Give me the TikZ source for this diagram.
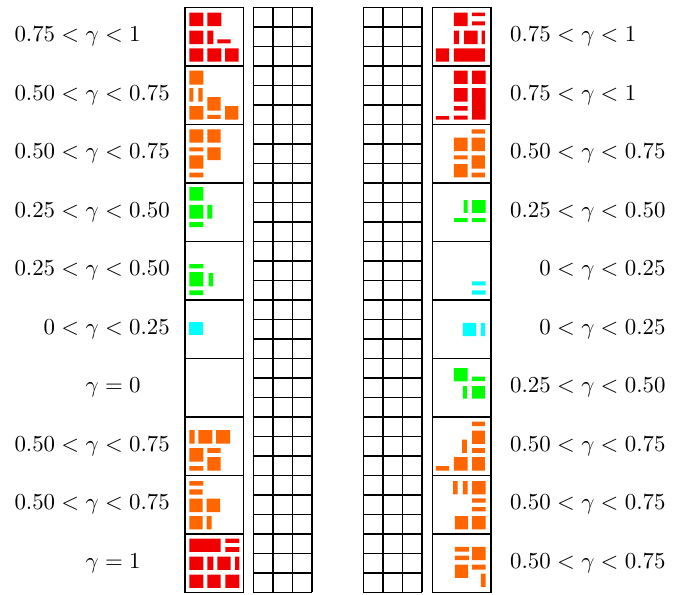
\documentclass[tikz,border=0pt]{standalone}
\definecolor{gred}{RGB}{240,0,0}
\definecolor{gorange}{RGB}{255,102,0}
\definecolor{ggreen}{RGB}{0,255,0}
\definecolor{gcyan}{RGB}{0,255,255}
\newcommand{\gamlab}[2]{\llap{$#1{}$}$\gamma#2$}
\begin{document}
\begin{tikzpicture}[x=0.015385cm,y=-0.015385cm,line width=0.7pt]
  \useasboundingbox (0,0) rectangle (682,594);
  \foreach \i in {0,...,9} {
    \draw (185,7.3+58.5*\i) rectangle ++(58.5,58.5);
    \draw (432.3,7.3+58.5*\i) rectangle ++(58.5,58.5);
  }
  \foreach \gx in {253.3,363.3} {
    \foreach \j in {0,...,30}
      \draw (\gx,7.3+19.5*\j) -- ++(58.5,0);
    \foreach \j in {0,...,3}
      \draw (\gx+19.5*\j,7.3) -- ++(0,585);
  }

  \foreach \i/\a/\b in {0/0.75</<1,1/0.50</<0.75,2/0.50</<0.75,3/0.25</<0.50,
      4/0.25</<0.50,5/0</<0.25,6/{}/{=0},7/0.50</<0.75,8/0.50</<0.75,9/{}/{=1}}
    \node[anchor=west,inner sep=0] (ll\i) at (84.8,36.55+58.5*\i) {\gamlab{\a}{\b}};
  \foreach \i/\a/\b in {0/0.75</<1,1/0.75</<1,2/0.50</<0.75,3/0.25</<0.50,
      4/0</<0.25,5/0</<0.25,6/0.25</<0.50,7/0.50</<0.75,8/0.50</<0.75,9/0.50</<0.75}
    \node[anchor=west,inner sep=0] (rl\i) at (580.5,36.55+58.5*\i) {\gamlab{\a}{\b}};

  % left column
  \begin{scope}[shift={(185,7.3)}]
    \fill[gred] (4.3,5.3) rectangle (18.3,18.7) (22.3,5.3) rectangle (36.3,18.7)
      (4.3,23.3) rectangle (18.3,36.7) (22.3,23.3) rectangle (28.3,36.7)
      (32.3,32) rectangle (45.7,36) (4.3,41) rectangle (18.3,54.3)
      (22.3,41) rectangle (36.3,54.3) (40,41) rectangle (53.7,54.3);
  \end{scope}
  \begin{scope}[shift={(185,65.8)}]
    \fill[gorange] (4.3,4.7) rectangle (18.3,18.7) (4.3,22.3) rectangle (8.3,35.7)
      (13.3,22.3) rectangle (17.7,35.7) (22.3,31.3) rectangle (35.7,44.7)
      (4.3,40.3) rectangle (18.3,53.7) (22.3,49) rectangle (35.7,53)
      (40,40.3) rectangle (53.3,53.7);
  \end{scope}
  \begin{scope}[shift={(185,124.3)}]
    \fill[gorange] (4.3,5) rectangle (18.3,18.3) (22.3,5) rectangle (35.7,18.3)
      (4.3,23) rectangle (18.3,27) (22.3,23) rectangle (35.7,35.7)
      (4.3,31) rectangle (18.3,44.3) (4.3,48.3) rectangle (18.3,53);
  \end{scope}
  \begin{scope}[shift={(185,182.8)}]
    \fill[ggreen] (4.3,4.3) rectangle (18.3,17.7) (4.3,22) rectangle (18.3,35.7)
      (22.3,22) rectangle (27.3,35.7) (4.3,39.3) rectangle (18.3,44.3);
  \end{scope}
  \begin{scope}[shift={(185,241.3)}]
    \fill[ggreen] (4.3,22.7) rectangle (18.3,27) (4.3,30.7) rectangle (18.3,45)
      (23.7,31.7) rectangle (28,45) (4.3,49) rectangle (18.3,53.7);
  \end{scope}
  \begin{scope}[shift={(185,299.8)}]
    \fill[gcyan] (4.3,21.7) rectangle (18.3,35);
  \end{scope}
  \begin{scope}[shift={(185,416.8)}]
    \fill[gorange] (4.3,13.3) rectangle (9.7,26.7) (13.3,13.3) rectangle (27.3,26.7)
      (31,13.3) rectangle (45,26.7) (4.3,31.3) rectangle (18.3,44.7)
      (22.3,31.3) rectangle (35.7,36) (22.3,40.3) rectangle (35.7,53.7)
      (4.3,49.3) rectangle (18.3,53.7);
  \end{scope}
  \begin{scope}[shift={(185,475.3)}]
    \fill[gorange] (4.3,5.7) rectangle (18.3,10.3) (4.3,14) rectangle (17.7,19.3)
      (4.3,23.3) rectangle (17.7,36.7) (21.7,23.3) rectangle (35,36.7)
      (4.3,40.7) rectangle (17.7,54) (21.7,40.7) rectangle (26.7,54);
  \end{scope}
  \begin{scope}[shift={(185,533.8)}]
    \fill[gred] (4.3,4.7) rectangle (35.7,18) (40.3,4.7) rectangle (54.3,9)
      (40.3,13.3) rectangle (54.3,18) (4.3,22.7) rectangle (18.3,36)
      (22.3,22.7) rectangle (28.3,36) (32.3,22.7) rectangle (45.7,36)
      (50,22.7) rectangle (54.3,36) (4.3,40.7) rectangle (18.3,54)
      (22.3,40.7) rectangle (35.7,54) (40.3,40.7) rectangle (54.3,54);
  \end{scope}

  % right column
  \begin{scope}[shift={(432.3,7.3)}]
    \fill[gred] (21.5,5.3) rectangle (35.2,18.7) (39.8,5.3) rectangle (52.5,8.7)
      (39.8,14) rectangle (52.5,18) (21.5,23.3) rectangle (26.8,36.7)
      (31.8,23.3) rectangle (45.2,36.7) (49.2,23.3) rectangle (52.5,36.7)
      (3.5,41) rectangle (16.8,54.3) (21.5,41) rectangle (52.5,54.3);
  \end{scope}
  \begin{scope}[shift={(432.3,65.8)}]
    \fill[gred] (21.5,4.7) rectangle (35.2,18) (39.8,4.7) rectangle (53.2,18)
      (21.5,22.3) rectangle (35.2,35.7) (39.8,22.3) rectangle (53.2,53.7)
      (21.5,40.3) rectangle (35.2,44.7) (3.5,50.3) rectangle (16.8,53.7)
      (21.5,49.7) rectangle (35.2,53.7);
  \end{scope}
  \begin{scope}[shift={(432.3,124.3)}]
    \fill[gorange] (39.2,5) rectangle (52.5,9.3) (21.5,13.3) rectangle (35.2,26.7)
      (39.2,13.3) rectangle (52.5,26.7) (21.5,31) rectangle (35.2,35)
      (39.2,31) rectangle (52.5,44.3) (21.5,39.7) rectangle (35.2,53)
      (39.2,48.3) rectangle (52.5,53);
  \end{scope}
  \begin{scope}[shift={(432.3,182.8)}]
    \fill[ggreen] (31.2,17.3) rectangle (35.2,30) (39.8,17.3) rectangle (53.2,30)
      (21.8,35.3) rectangle (35.2,39.3) (39.8,35.3) rectangle (53.2,39.3);
  \end{scope}
  \begin{scope}[shift={(432.3,241.3)}]
    \fill[gcyan] (39.8,40) rectangle (53.2,44) (39.8,49) rectangle (53.2,53.3);
  \end{scope}
  \begin{scope}[shift={(432.3,299.8)}]
    \fill[gcyan] (30.5,23) rectangle (43.8,36.3) (48.5,23) rectangle (52.5,36.3);
  \end{scope}
  \begin{scope}[shift={(432.3,358.3)}]
    \fill[ggreen] (21.5,9.7) rectangle (35.2,23) (39.8,18.3) rectangle (52.5,22.7)
      (30.5,27.7) rectangle (34.5,40.3) (39.8,27.7) rectangle (52.5,40.3);
  \end{scope}
  \begin{scope}[shift={(432.3,416.8)}]
    \fill[gorange] (39.8,4.7) rectangle (52.5,9.3) (39.8,13.7) rectangle (52.5,27)
      (29.8,22.7) rectangle (34.5,36) (39.8,31.3) rectangle (52.5,36)
      (3.5,49.3) rectangle (16.8,53.7) (21.5,40.3) rectangle (35.2,53.7)
      (39.8,40.3) rectangle (52.5,53.7);
  \end{scope}
  \begin{scope}[shift={(432.3,475.3)}]
    \fill[gorange] (20.8,5.7) rectangle (25.2,19) (30.5,5.7) rectangle (35.2,19)
      (39.8,5.7) rectangle (53.2,19) (39.8,23) rectangle (53.2,27.3)
      (39.8,31.7) rectangle (53.2,36) (22.5,40.7) rectangle (35.8,54)
      (39.8,40.7) rectangle (53.2,54);
  \end{scope}
  \begin{scope}[shift={(432.3,533.8)}]
    \fill[gorange] (22.5,13) rectangle (36.5,17.7) (22.5,21.7) rectangle (36.5,26.3)
      (39.8,13) rectangle (53.2,26.3) (22.5,30.7) rectangle (35.8,44)
      (39.8,30.7) rectangle (53.2,35.7) (48.5,39.7) rectangle (53.2,53);
  \end{scope}
\end{tikzpicture}
\end{document}
